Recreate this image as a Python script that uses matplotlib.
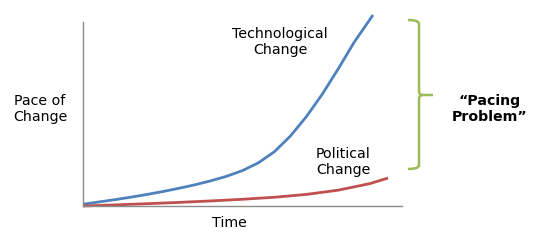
import matplotlib.pyplot as plt
from matplotlib.path import Path
from matplotlib.patches import PathPatch

# values (x: time 0-100, y: pace 0-100)
tech_x = [0, 5, 10, 15, 20, 25, 30, 35, 40, 45, 50, 55, 60, 65, 70, 75, 80, 85, 90.9]
tech_y = [1.0, 2.2, 3.45, 4.8, 6.25, 7.85, 9.6, 11.5, 13.65, 16.15, 19.25, 23.5, 29.5,
          38.0, 48.5, 60.75, 74.5, 89.0, 103.8]
pol_x = [0, 10, 20, 30, 40, 50, 60, 70, 80, 90, 95.6]
pol_y = [0, 0.6, 1.25, 1.95, 2.75, 3.65, 4.75, 6.3, 8.6, 12.2, 15.2]

W, H = 550, 247
fig = plt.figure(figsize=(5.5, 2.47), dpi=100)
ax = fig.add_axes([83 / W, 1 - 206 / H, 319 / W, 184 / H])

ax.plot(tech_x, tech_y, color='#4F81BD', lw=2, clip_on=False, solid_capstyle='butt',
        solid_joinstyle='round')
ax.plot(pol_x, pol_y, color='#C0504D', lw=2, clip_on=False, solid_capstyle='butt',
        solid_joinstyle='round')

ax.set_xlim(0, 100)
ax.set_ylim(0, 100)
ax.set_xticks([])
ax.set_yticks([])
for s in ['top', 'right']:
    ax.spines[s].set_visible(False)
for s in ['left', 'bottom']:
    ax.spines[s].set_color('#8c8c8c')
    ax.spines[s].set_linewidth(1)

def px(x, y):
    return (x / W, 1 - y / H)

fs = 10.2
fig.text(*px(40, 109), 'Pace of\nChange', ha='center', va='center', fontsize=fs, linespacing=1.25)
fig.text(*px(229, 223), 'Time', ha='center', va='center', fontsize=fs)
fig.text(*px(280, 42), 'Technological\nChange', ha='center', va='center', fontsize=fs, linespacing=1.25)
fig.text(*px(343, 162), 'Political\nChange', ha='center', va='center', fontsize=fs, linespacing=1.25)
fig.text(*px(490, 109), '\u201cPacing\nProblem\u201d', ha='center', va='center', fontsize=fs,
         fontweight='bold', linespacing=1.25)

# curly brace
r = 4
verts = [px(408, 20), px(419, 20), px(419, 20 + r),
         px(419, 95 - r),
         px(419, 95), px(419 + r, 95),
         px(433, 95),
         px(419 + r, 95), px(419, 95), px(419, 95 + r),
         px(419, 169 - r),
         px(419, 169), px(408, 169)]
codes = [Path.MOVETO, Path.CURVE3, Path.CURVE3,
         Path.LINETO,
         Path.CURVE3, Path.CURVE3,
         Path.LINETO,
         Path.MOVETO, Path.CURVE3, Path.CURVE3,
         Path.LINETO,
         Path.CURVE3, Path.CURVE3]
fig.patches.append(PathPatch(Path(verts, codes), transform=fig.transFigure,
                             fill=False, edgecolor='#9BBB59', lw=1.8))

fig.savefig('out.png', dpi=100)
